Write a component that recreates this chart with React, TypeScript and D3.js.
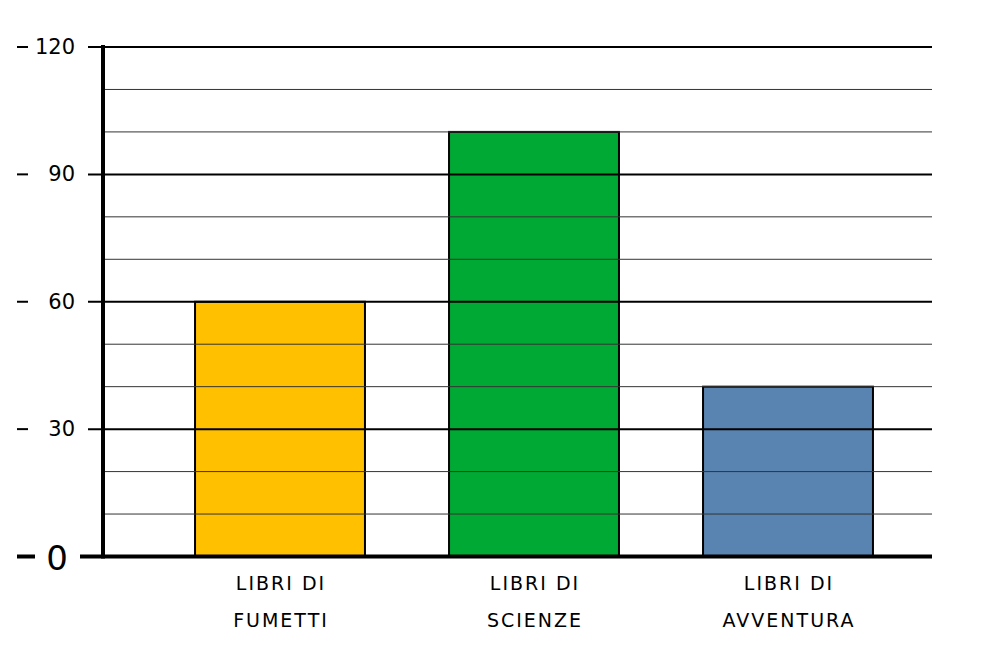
import React from 'react';
import * as d3 from 'd3';

const categories = ['FUMETTI', 'SCIENZE', 'AVVENTURA'];
const labelTop = ['LIBRI DI', 'LIBRI DI', 'LIBRI DI'];
const values = [60, 100, 40];
const colors = ['#FFC000', '#00A933', '#5983B0'];
const majorTicks = [0, 30, 60, 90, 120];
const minorTicks = [10, 20, 40, 50, 70, 80, 100, 110];

const width = 1002;
const height = 657;
const axisX = 103;
const right = 932;

export default function App() {
  const y = d3.scaleLinear().domain([0, 120]).range([556.5, 47]);
  const x = d3.scaleBand<string>()
    .domain(categories)
    .range([153, 915])
    .paddingInner(0.331)
    .paddingOuter(0.1655);

  const font = '"DejaVu Sans", sans-serif';

  return (
    <svg
      width={width}
      height={height}
      style={{ position: 'absolute', left: 0, top: 0, background: '#fff' }}
      fontFamily={font}
    >
      {/* bars */}
      {categories.map((c, i) => (
        <rect
          key={c}
          x={x(c)}
          y={y(values[i])}
          width={x.bandwidth()}
          height={y(0) - y(values[i])}
          fill={colors[i]}
          stroke="#000"
          strokeWidth={2}
        />
      ))}

      {/* minor grid */}
      {minorTicks.map(t => (
        <line key={t} x1={axisX} x2={right} y1={y(t)} y2={y(t)} stroke="#333" strokeWidth={1} />
      ))}

      {/* major grid + ticks */}
      {majorTicks.filter(t => t > 0).map(t => (
        <g key={t}>
          <line x1={88} x2={right} y1={y(t)} y2={y(t)} stroke="#000" strokeWidth={2} />
          <line x1={17} x2={28} y1={y(t)} y2={y(t)} stroke="#000" strokeWidth={2} />
          <text x={75} y={y(t)} textAnchor="end" dominantBaseline="central" fontSize={21} fill="#000">
            {t}
          </text>
        </g>
      ))}

      {/* zero tick */}
      <line x1={17} x2={35} y1={y(0)} y2={y(0)} stroke="#000" strokeWidth={4} />
      <text x={68} y={y(0) + 1} textAnchor="end" dominantBaseline="central" fontSize={34} fill="#000">
        0
      </text>

      {/* axes */}
      <line x1={80} x2={right} y1={y(0)} y2={y(0)} stroke="#000" strokeWidth={4} />
      <line x1={axisX} x2={axisX} y1={45} y2={y(0) + 2} stroke="#000" strokeWidth={4} />

      {/* category labels */}
      {categories.map((c, i) => {
        const cx = (x(c) ?? 0) + x.bandwidth() / 2;
        return (
          <g key={c} fontSize={19} fill="#000" textAnchor="middle" letterSpacing={2}>
            <text x={cx + 1} y={590}>{labelTop[i]}</text>
            <text x={cx + 1} y={627}>{c}</text>
          </g>
        );
      })}
    </svg>
  );
}
